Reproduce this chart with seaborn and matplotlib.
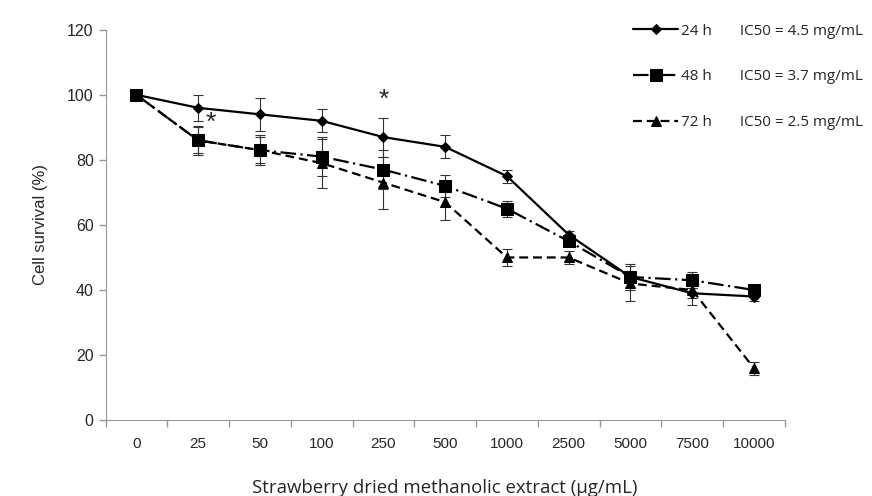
import numpy as np
import pandas as pd
import seaborn as sns
import matplotlib.pyplot as plt
from matplotlib.ticker import FixedLocator

conc = ["0", "25", "50", "100", "250", "500", "1000", "2500", "5000", "7500", "10000"]

surv_24 = [100, 96, 94, 92, 87, 84, 75, 57, 44, 39, 38]
err_24 = [0, 4, 5, 3.5, 6, 3.5, 2, 1, 1.5, 1.5, 1.5]

surv_48 = [100, 86, 83, 81, 77, 72, 65, 55, 44, 43, 40]
err_48 = [0, 4.5, 4.5, 6, 6, 3.5, 2.5, 1.5, 4, 2.5, 1.5]

surv_72 = [100, 86, 83, 79, 73, 67, 50, 50, 42, 40, 16]
err_72 = [0, 4, 4, 7.5, 8, 5.5, 2.5, 2, 5.5, 4.5, 2]

groups = ["24 h", "48 h", "72 h"]
ic50 = ["4.5", "3.7", "2.5"]

# asterisks (position index, y)
stars = [(1.2, 91.5), (4, 98.5)]

sns.set_style("ticks")
plt.rcParams["font.family"] = ["Liberation Sans", "DejaVu Sans"]

rows = []
for g, s, e in zip(groups, [surv_24, surv_48, surv_72], [err_24, err_48, err_72]):
    for i, (v, er) in enumerate(zip(s, e)):
        rows.append({"pos": i, "survival": v, "err": er, "time": g})
df = pd.DataFrame(rows)

fig = plt.figure(figsize=(8.72, 4.96), dpi=100)
ax = fig.add_axes([0.121, 0.153, 0.779, 0.787])

# error bars first so markers sit on top
for g in groups:
    d = df[df["time"] == g]
    ax.errorbar(d["pos"], d["survival"], yerr=d["err"], fmt="none",
                ecolor="#333333", elinewidth=0.8, capsize=3.5, capthick=0.8, zorder=2)

dashes = {"24 h": "", "48 h": (7, 2, 1, 2), "72 h": (4, 2.2)}
markers = {"24 h": "D", "48 h": "s", "72 h": "^"}
sns.lineplot(data=df, x="pos", y="survival", hue="time", style="time",
             palette=["black"] * 3, dashes=dashes, markers=markers,
             markersize=7, linewidth=1.6, markeredgecolor="black", ax=ax, zorder=3)

msize = {"D": 5.5, "s": 8, "^": 7}
for line in ax.get_lines():
    m = line.get_marker()
    if m in msize:
        line.set_markersize(msize[m])

for x, y in stars:
    ax.text(x, y, "*", ha="center", va="center", fontsize=19)

ax.set_xlim(-0.5, 10.5)
ax.set_ylim(0, 120)
ax.set_yticks(range(0, 121, 20))
ax.set_xticks(range(len(conc)))
ax.set_xticklabels(conc)
ax.xaxis.set_minor_locator(FixedLocator(np.arange(-0.5, 11, 1)))
ax.tick_params(axis="x", which="major", length=0, labelsize=11, pad=12)
ax.tick_params(axis="x", which="minor", length=5, color="#999999", width=1)
ax.tick_params(axis="y", length=5, color="#999999", labelsize=11.5, width=1)
for sp in ["left", "bottom"]:
    ax.spines[sp].set_color("#999999")
sns.despine(ax=ax)

ax.set_ylabel("Cell survival (%)", fontsize=12, labelpad=14)
ax.set_xlabel("Strawberry dried methanolic extract (\u00b5g/mL)", fontsize=13.4,
              family=["Open Sans", "DejaVu Sans"], labelpad=20)

handles, labels = ax.get_legend_handles_labels()
ax.get_legend().remove()
for h in handles:
    m = h.get_marker()
    if m in msize:
        h.set_markersize(msize[m])
new_labels = [f"{g}       IC50 = {v} mg/mL" for g, v in zip(groups, ic50)]
fig.legend(handles[-3:], new_labels, loc="upper left", bbox_to_anchor=(0.726, 0.952),
           frameon=False, handlelength=2.95, handletextpad=0.2, borderpad=0,
           borderaxespad=0, labelspacing=2.0,
           prop={"family": ["Open Sans", "DejaVu Sans"], "size": 11})

fig.savefig("out.png", dpi=100)
